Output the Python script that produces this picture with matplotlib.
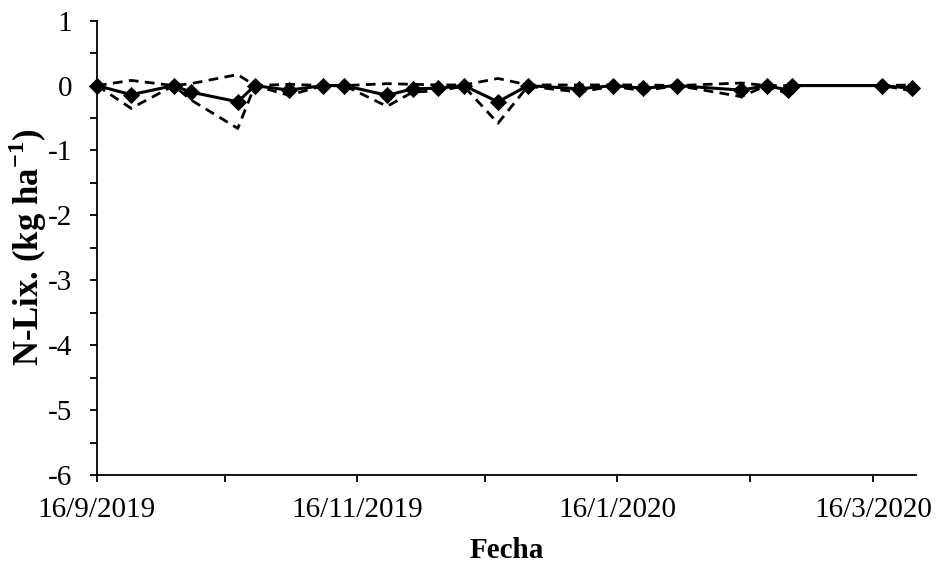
import matplotlib
matplotlib.use("Agg")
import matplotlib.pyplot as plt
from matplotlib.ticker import MultipleLocator
import pandas as pd

plt.rcParams["font.family"] = ["Liberation Serif", "DejaVu Serif"]
plt.rcParams["mathtext.fontset"] = "custom"
plt.rcParams["mathtext.rm"] = "Liberation Serif"
plt.rcParams["mathtext.bf"] = "Liberation Serif:bold"
plt.rcParams["axes.unicode_minus"] = False

# sampling dates and N leached (mean, upper and lower dashed bands)
fechas = ["16/9/2019", "24/9/2019", "4/10/2019", "8/10/2019", "19/10/2019",
          "23/10/2019", "31/10/2019", "8/11/2019", "13/11/2019", "23/11/2019",
          "29/11/2019", "5/12/2019", "11/12/2019", "19/12/2019", "26/12/2019",
          "7/1/2020", "15/1/2020", "22/1/2020", "30/1/2020", "14/2/2020",
          "20/2/2020", "25/2/2020", "26/2/2020", "18/3/2020", "25/3/2020"]
media = [0.0, -0.14, 0.0, -0.10, -0.25, 0.0, -0.07, 0.0, 0.0, -0.15,
         -0.05, -0.04, 0.0, -0.25, 0.0, -0.05, 0.0, -0.04, 0.0, -0.07,
         0.0, -0.07, 0.0, 0.0, -0.04]
superior = [0.0, 0.08, 0.0, 0.03, 0.17, 0.0, 0.02, 0.0, 0.0, 0.03,
            0.02, 0.01, 0.01, 0.11, 0.01, 0.01, 0.01, 0.01, 0.0, 0.04,
            0.0, 0.0, 0.0, 0.0, 0.01]
inferior = [0.0, -0.35, 0.0, -0.22, -0.66, 0.0, -0.15, 0.0, 0.0, -0.32,
            -0.10, -0.08, -0.01, -0.58, -0.01, -0.10, -0.01, -0.08, 0.0, -0.17,
            0.0, -0.13, 0.0, 0.0, -0.08]

ticks_x = ["16/9/2019", "16/10/2019", "16/11/2019", "16/12/2019",
           "16/1/2020", "16/2/2020", "16/3/2020"]
x_min, x_max = "16/9/2019", "26/3/2020"

x = pd.to_datetime(fechas, dayfirst=True)
tx = pd.to_datetime(ticks_x, dayfirst=True)

fig = plt.figure(figsize=(9.4, 5.67), dpi=100)
ax = fig.add_axes([0.1032, 0.1623, 0.8713, 0.8012])

dash = (0, (3.5, 2.3))
ax.plot(x, superior, color="black", lw=2.0, linestyle=dash, clip_on=False)
ax.plot(x, inferior, color="black", lw=2.0, linestyle=dash, clip_on=False)
ax.plot(x, media, color="black", lw=2.2, marker="D", markersize=8,
        markeredgewidth=0.6, clip_on=False, zorder=3)

ax.set_xlim(pd.to_datetime(x_min, dayfirst=True), pd.to_datetime(x_max, dayfirst=True))
ax.set_ylim(-6, 1)
ax.yaxis.set_major_locator(MultipleLocator(1))
ax.yaxis.set_minor_locator(MultipleLocator(0.5))

ax.set_xticks(tx)
ax.set_xticklabels([f"{d.day}/{d.month}/{d.year}" if i % 2 == 0 else ""
                    for i, d in enumerate(tx)])

for s in ["top", "right"]:
    ax.spines[s].set_visible(False)
for s in ["left", "bottom"]:
    ax.spines[s].set_linewidth(1.3)

ax.tick_params(axis="both", which="both", direction="out", length=5, width=1.3,
               labelsize=21, colors="black")
ax.tick_params(axis="x", pad=11)
ax.tick_params(axis="y", pad=13)

ax.set_xlabel("Fecha", fontsize=21, fontweight="bold", labelpad=10)
ax.set_ylabel(r"N-Lix. (kg ha$^{\mathbf{-1}}$)", fontsize=25, fontweight="bold", labelpad=-1)

fig.savefig("out.png", dpi=100)
